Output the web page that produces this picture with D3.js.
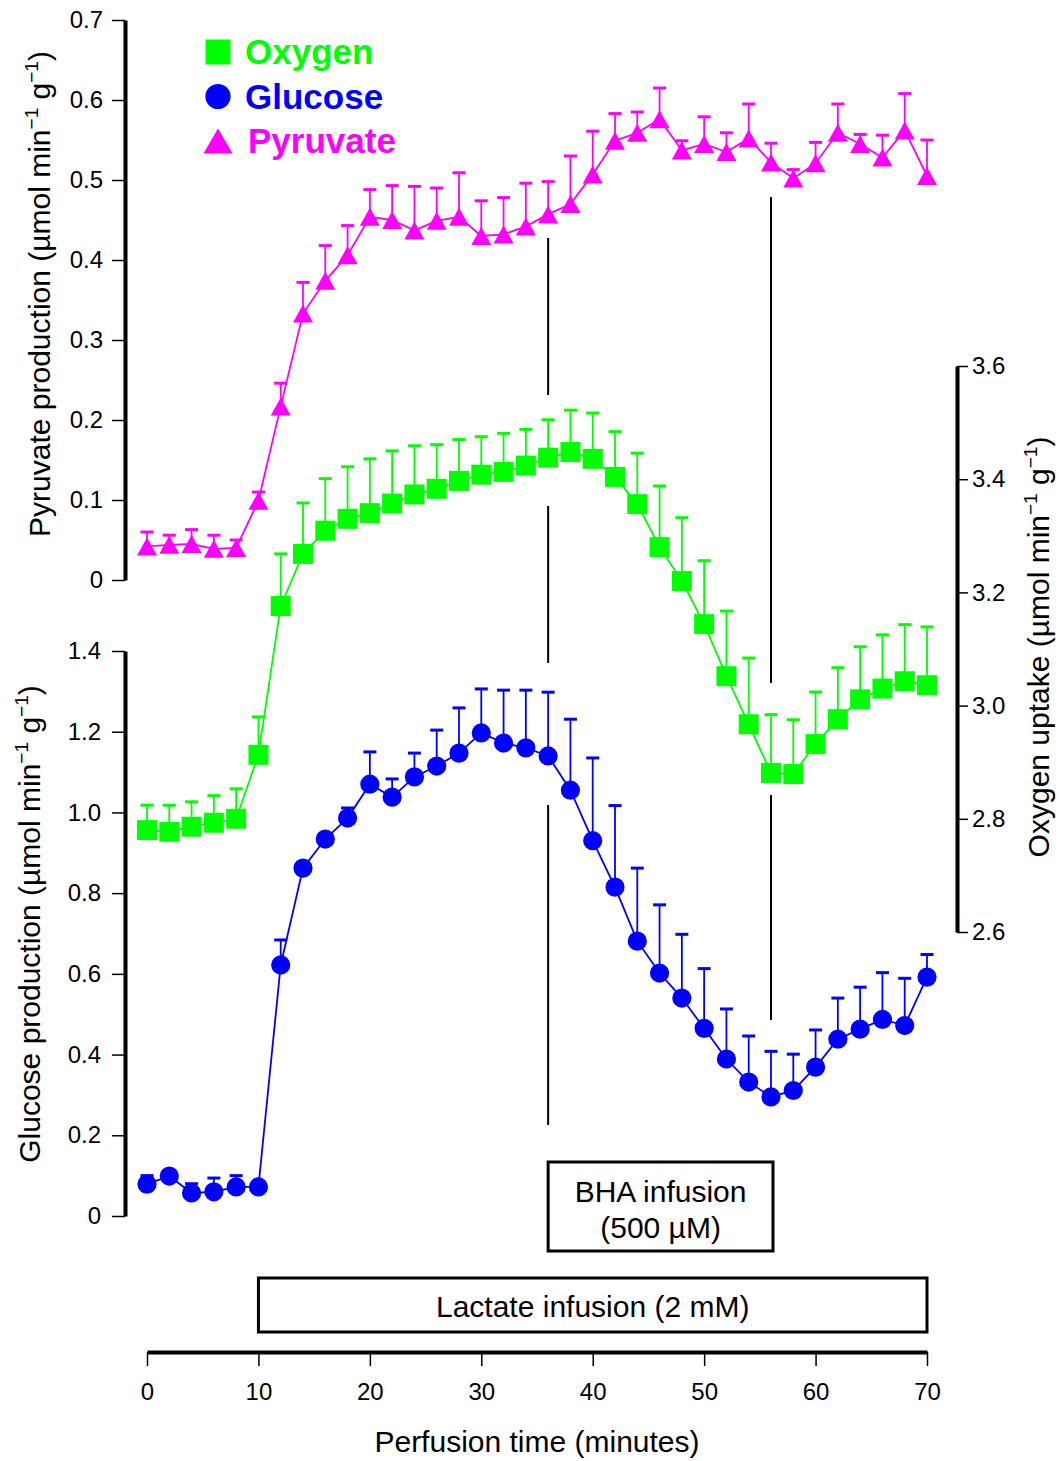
<!DOCTYPE html>
<html lang="en">
<head>
    <meta charset="UTF-8">
    <title>Perfusion time course</title>

    <script src="https://d3js.org/d3.v7.min.js"></script>

    <style>
        body {
            margin: 0;
            background: #fff;
        }

        svg {
            display: block;
            font-family: "Liberation Sans", Arial, sans-serif;
        }
    </style>

    <script>

        const TIMES = [0, 2, 4, 6, 8, 10, 12, 14, 16, 18, 20, 22, 24, 26, 28, 30, 32, 34,
            36, 38, 40, 42, 44, 46, 48, 50, 52, 54, 56, 58, 60, 62, 64, 66, 68, 70];

        const PYRUVATE = [0.042, 0.044, 0.045, 0.039, 0.040, 0.099, 0.217, 0.333, 0.374, 0.406, 0.454, 0.450,
            0.437, 0.449, 0.454, 0.430, 0.432, 0.442, 0.457, 0.470, 0.507, 0.549, 0.559, 0.576,
            0.537, 0.545, 0.535, 0.552, 0.522, 0.502, 0.521, 0.559, 0.545, 0.528, 0.562, 0.505];
        const PYRUVATE_SEM = [0.018, 0.012, 0.018, 0.017, 0.010, 0.011, 0.029, 0.039, 0.044, 0.037, 0.034, 0.043,
            0.055, 0.041, 0.055, 0.044, 0.046, 0.054, 0.041, 0.060, 0.054, 0.034, 0.026, 0.039,
            0.012, 0.034, 0.024, 0.043, 0.024, 0.011, 0.026, 0.036, 0.012, 0.028, 0.046, 0.045];

        const OXYGEN = [2.780, 2.777, 2.786, 2.793, 2.800, 2.913, 3.176, 3.268, 3.309, 3.330, 3.340, 3.357,
            3.373, 3.383, 3.397, 3.408, 3.413, 3.424, 3.438, 3.448, 3.436, 3.404, 3.356, 3.280,
            3.220, 3.144, 3.052, 2.967, 2.881, 2.879, 2.932, 2.976, 3.011, 3.030, 3.043, 3.036];
        const OXYGEN_SEM = [0.044, 0.047, 0.044, 0.048, 0.053, 0.067, 0.092, 0.090, 0.092, 0.092, 0.096, 0.093,
            0.086, 0.078, 0.073, 0.067, 0.068, 0.064, 0.067, 0.074, 0.081, 0.080, 0.090, 0.108,
            0.112, 0.112, 0.115, 0.117, 0.103, 0.096, 0.092, 0.091, 0.093, 0.095, 0.100, 0.103];

        const GLUCOSE = [0.079, 0.099, 0.057, 0.060, 0.072, 0.072, 0.622, 0.862, 0.934, 0.986, 1.070, 1.038,
            1.088, 1.115, 1.147, 1.197, 1.172, 1.160, 1.140, 1.055, 0.930, 0.815, 0.681, 0.602,
            0.540, 0.465, 0.389, 0.332, 0.295, 0.311, 0.369, 0.438, 0.463, 0.487, 0.472, 0.592];
        const GLUCOSE_SEM = [0.021, 0.006, 0.023, 0.034, 0.028, 0.003, 0.062, 0.010, 0.006, 0.025, 0.080, 0.045,
            0.059, 0.089, 0.112, 0.109, 0.131, 0.143, 0.158, 0.176, 0.205, 0.202, 0.181, 0.169,
            0.158, 0.148, 0.124, 0.114, 0.113, 0.090, 0.092, 0.102, 0.104, 0.116, 0.117, 0.056];

        const TIME_TICKS = [0, 10, 20, 30, 40, 50, 60, 70];
        const PYRUVATE_TICKS = [0, 0.1, 0.2, 0.3, 0.4, 0.5, 0.6, 0.7];
        const GLUCOSE_TICKS = [0, 0.2, 0.4, 0.6, 0.8, 1.0, 1.2, 1.4];
        const OXYGEN_TICKS = [2.6, 2.8, 3.0, 3.2, 3.4, 3.6];

        const LEGEND_NAMES = ["Oxygen", "Glucose", "Pyruvate"];
        const LEGEND_COLORS = ["#00ff00", "#0000ff", "#ff00ff"];

        const LACTATE_PERIOD = [10, 70];
        const BHA_PERIOD = [36, 56];

        document.addEventListener("DOMContentLoaded", () => makeGraph());

        // triangle centred on its bounding box, like the original plotting program
        function triangle(w, h) {
            return "M0," + (-h / 2) + "L" + (w / 2) + "," + (h / 2) + "L" + (-w / 2) + "," + (h / 2) + "Z";
        }

        function makeGraph() {

            const svg = d3.select("#graph")
                .attr("width", 1061)
                .attr("height", 1461);

            svg.append("rect").attr("width", 1061).attr("height", 1461).attr("fill", "#fff");

            const x = d3.scaleLinear().domain([0, 70]).range([147, 927]);
            const yPyr = d3.scaleLinear().domain([0, 0.7]).range([580, 20]);
            const yGlu = d3.scaleLinear().domain([0, 1.4]).range([1216, 651]);
            const yOxy = d3.scaleLinear().domain([2.6, 3.6]).range([932, 366]);

            const fmt = d => d === 0 ? "0" : d3.format(".1f")(d);

            function styleAxis(g) {
                g.attr("font-family", null).attr("font-size", 24);
                g.select(".domain").attr("stroke-width", 4);
                g.selectAll(".tick line").attr("stroke-width", 1.5);
                g.selectAll(".tick text").attr("fill", "#000");
            }

            svg.append("g").attr("transform", "translate(125,0)")
                .call(d3.axisLeft(yPyr).tickValues(PYRUVATE_TICKS).tickFormat(fmt)
                    .tickSize(13).tickSizeOuter(0).tickPadding(9))
                .call(styleAxis);

            svg.append("g").attr("transform", "translate(125,0)")
                .call(d3.axisLeft(yGlu).tickValues(GLUCOSE_TICKS).tickFormat(fmt)
                    .tickSize(13).tickSizeOuter(0).tickPadding(11))
                .call(styleAxis);

            svg.append("g").attr("transform", "translate(957,0)")
                .call(d3.axisRight(yOxy).tickValues(OXYGEN_TICKS).tickFormat(fmt)
                    .tickSize(11).tickSizeOuter(0).tickPadding(4))
                .call(styleAxis);

            svg.append("g").attr("transform", "translate(0,1352)")
                .call(d3.axisBottom(x).tickValues(TIME_TICKS)
                    .tickSize(14).tickSizeOuter(0).tickPadding(17))
                .call(styleAxis);

            // axis titles with superscript units
            function unitTitle(tx, ty, lead) {
                const t = svg.append("text")
                    .attr("transform", "translate(" + tx + "," + ty + ") rotate(-90)")
                    .attr("text-anchor", "middle")
                    .attr("font-size", 30);
                t.append("tspan").text(lead + " (\u00b5mol min");
                t.append("tspan").attr("font-size", 19).attr("dy", -12).text("\u22121");
                t.append("tspan").attr("dy", 12).text(" g");
                t.append("tspan").attr("font-size", 19).attr("dy", -12).text("\u22121");
                t.append("tspan").attr("dy", 12).text(")");
            }

            unitTitle(50, 294, "Pyruvate production");
            unitTitle(40, 924, "Glucose production");
            unitTitle(1049, 647, "Oxygen uptake");

            svg.append("text")
                .attr("x", x(35)).attr("y", 1452)
                .attr("text-anchor", "middle")
                .attr("font-size", 30)
                .text("Perfusion time (minutes)");

            // BHA marker lines (broken where they would cross the curves)
            const bhaSegments = [
                [[238, 395], [506, 663], [805, 1125]],
                [[197, 683], [795, 1020]]
            ];
            BHA_PERIOD.forEach((t, i) => {
                bhaSegments[i].forEach(seg => {
                    svg.append("line")
                        .attr("x1", x(t)).attr("x2", x(t))
                        .attr("y1", seg[0]).attr("y2", seg[1])
                        .attr("stroke", "#000").attr("stroke-width", 2);
                });
            });

            function drawSeries(values, sems, y, color, symbol) {
                const g = svg.append("g");
                const pts = TIMES.map((t, i) => ({t: t, v: values[i], s: sems[i]}));

                g.selectAll(".bar").data(pts).join("line")
                    .attr("x1", d => x(d.t)).attr("x2", d => x(d.t))
                    .attr("y1", d => y(d.v)).attr("y2", d => y(d.v + d.s))
                    .attr("stroke", color).attr("stroke-width", 1.8);

                g.selectAll(".cap").data(pts).join("line")
                    .attr("x1", d => x(d.t) - 6.5).attr("x2", d => x(d.t) + 6.5)
                    .attr("y1", d => y(d.v + d.s)).attr("y2", d => y(d.v + d.s))
                    .attr("stroke", color).attr("stroke-width", 3);

                g.append("path")
                    .datum(pts)
                    .attr("fill", "none")
                    .attr("stroke", color)
                    .attr("stroke-width", 1.8)
                    .attr("d", d3.line().x(d => x(d.t)).y(d => y(d.v)));

                g.selectAll(".mark").data(pts).join("path")
                    .attr("transform", d => "translate(" + x(d.t) + "," + y(d.v) + ")")
                    .attr("d", symbol)
                    .attr("fill", color);
            }

            drawSeries(PYRUVATE, PYRUVATE_SEM, yPyr, LEGEND_COLORS[2], triangle(20, 18));
            drawSeries(OXYGEN, OXYGEN_SEM, yOxy, LEGEND_COLORS[0], d3.symbol(d3.symbolSquare, 400)());
            drawSeries(GLUCOSE, GLUCOSE_SEM, yGlu, LEGEND_COLORS[1], d3.symbol(d3.symbolCircle, 290)());

            // legend
            const legendSymbols = [
                d3.symbol(d3.symbolSquare, 625)(),
                d3.symbol(d3.symbolCircle, 500)(),
                triangle(29, 25)
            ];
            const legend = svg.append("g").attr("transform", "translate(218,52)");
            LEGEND_NAMES.forEach((name, i) => {
                legend.append("path")
                    .attr("transform", "translate(0," + (i * 44.5) + ")")
                    .attr("d", legendSymbols[i])
                    .attr("fill", LEGEND_COLORS[i]);
                legend.append("text")
                    .attr("x", i === 2 ? 30 : 27)
                    .attr("y", i * 44.5 + 12)
                    .attr("font-size", 35)
                    .attr("font-weight", "bold")
                    .attr("fill", LEGEND_COLORS[i])
                    .text(name);
            });

            // infusion boxes
            svg.append("rect")
                .attr("x", x(BHA_PERIOD[0])).attr("y", 1162)
                .attr("width", x(BHA_PERIOD[1]) - x(BHA_PERIOD[0]) + 2).attr("height", 89)
                .attr("fill", "none").attr("stroke", "#000").attr("stroke-width", 3);
            svg.append("text")
                .attr("x", x(d3.mean(BHA_PERIOD)) + 1).attr("y", 1202)
                .attr("text-anchor", "middle").attr("font-size", 30)
                .text("BHA infusion");
            svg.append("text")
                .attr("x", x(d3.mean(BHA_PERIOD)) + 1).attr("y", 1238)
                .attr("text-anchor", "middle").attr("font-size", 30)
                .text("(500 \u00b5M)");

            svg.append("rect")
                .attr("x", x(LACTATE_PERIOD[0])).attr("y", 1278)
                .attr("width", x(LACTATE_PERIOD[1]) - x(LACTATE_PERIOD[0])).attr("height", 54)
                .attr("fill", "none").attr("stroke", "#000").attr("stroke-width", 3);
            svg.append("text")
                .attr("x", x(d3.mean(LACTATE_PERIOD))).attr("y", 1317)
                .attr("text-anchor", "middle").attr("font-size", 30)
                .text("Lactate infusion (2 mM)");
        }

    </script>

</head>
<body>
    <svg id="graph"></svg>
</body>
</html>
